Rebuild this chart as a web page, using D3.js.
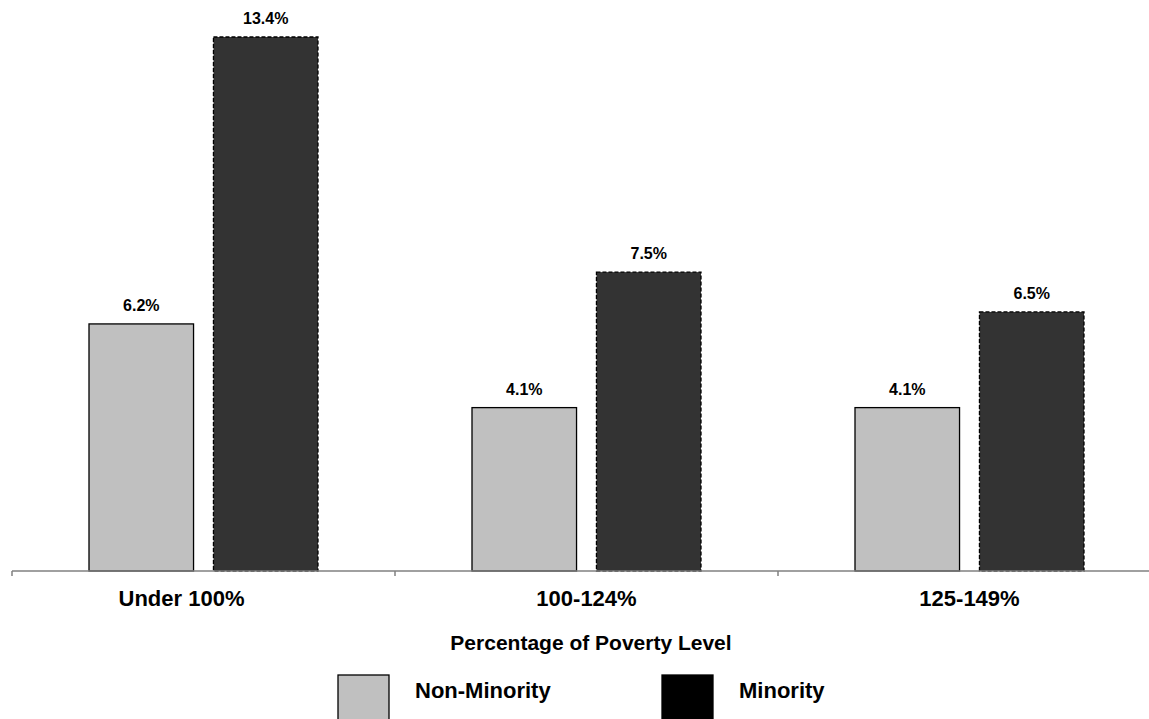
<!DOCTYPE html>
<html>
<head>
<meta charset="utf-8">
<script src="https://cdn.jsdelivr.net/npm/d3@7"></script>
<style>
    body { margin: 0; background: #fff; }
    text { font-family: "Liberation Sans", Arial, sans-serif; font-weight: bold; fill: #000; }
</style>
</head>
<body>
<div id="chart"></div>
<script>
const categories = ['Under 100%', '100-124%', '125-149%'];
const seriesNames = ['Non-Minority', 'Minority'];
const nonMinority = [6.2, 4.1, 4.1];
const minority = [13.4, 7.5, 6.5];
const axisTitle = 'Percentage of Poverty Level';

const width = 1149;
const height = 719;
const axisY = 571;

const fills = { 'Non-Minority': '#c0c0c0', 'Minority': '#333333' };
const legendFills = { 'Non-Minority': '#c0c0c0', 'Minority': '#000000' };

const svg = d3.select('#chart')
    .append('svg')
    .attr('width', width)
    .attr('height', height);

const x0 = d3.scaleBand().domain(categories).range([12, 1161]);
const x1 = d3.scaleBand().domain(seriesNames).range([77, 306]).paddingInner(0.16);
const y = d3.scaleLinear().domain([0, 13.4]).range([axisY, 37]);

const rows = categories.map((c, i) => ({
    category: c,
    values: [
        { series: 'Non-Minority', value: nonMinority[i] },
        { series: 'Minority', value: minority[i] }
    ]
}));

const groups = svg.selectAll('.group')
    .data(rows)
    .enter()
    .append('g')
    .attr('class', 'group')
    .attr('transform', d => `translate(${x0(d.category)},0)`);

groups.selectAll('rect')
    .data(d => d.values)
    .enter()
    .append('rect')
    .attr('x', d => x1(d.series))
    .attr('y', d => y(d.value))
    .attr('width', x1.bandwidth())
    .attr('height', d => axisY - y(d.value))
    .attr('fill', d => fills[d.series])
    .attr('stroke', '#000')
    .attr('stroke-width', 1.3)
    .attr('stroke-dasharray', d => d.series === 'Minority' ? '4,2' : null);

groups.selectAll('.val')
    .data(d => d.values)
    .enter()
    .append('text')
    .attr('class', 'val')
    .attr('x', d => x1(d.series) + x1.bandwidth() / 2)
    .attr('y', d => y(d.value) - 13)
    .attr('text-anchor', 'middle')
    .style('font-size', '16px')
    .text(d => d.value.toFixed(1) + '%');

// axis
const axis = svg.append('g').attr('transform', `translate(0,${axisY})`);
axis.append('line')
    .attr('x1', 12).attr('x2', width)
    .attr('stroke', '#808080').attr('stroke-width', 1.5);
axis.selectAll('.tick')
    .data(categories)
    .enter()
    .append('line')
    .attr('x1', d => x0(d)).attr('x2', d => x0(d))
    .attr('y1', 0).attr('y2', 5)
    .attr('stroke', '#808080').attr('stroke-width', 1.5);

svg.selectAll('.cat')
    .data(categories)
    .enter()
    .append('text')
    .attr('class', 'cat')
    .attr('x', (d, i) => x0(d) + x0.bandwidth() / 2 - (i === 0 ? 22 : 0))
    .attr('y', 606)
    .attr('text-anchor', 'middle')
    .style('font-size', '22px')
    .text(d => d);

svg.append('text')
    .attr('x', 591)
    .attr('y', 650)
    .attr('text-anchor', 'middle')
    .style('font-size', '21px')
    .text(axisTitle);

// legend
const legendX = d3.scalePoint().domain(seriesNames).range([338, 662]);
const legend = svg.selectAll('.legend')
    .data(seriesNames)
    .enter()
    .append('g')
    .attr('class', 'legend')
    .attr('transform', d => `translate(${legendX(d)},675)`);

legend.append('rect')
    .attr('width', 51)
    .attr('height', 50)
    .attr('fill', d => legendFills[d])
    .attr('stroke', '#000')
    .attr('stroke-width', 1.3);

legend.append('text')
    .attr('x', 77)
    .attr('y', 23)
    .style('font-size', '22px')
    .text(d => d);
</script>
</body>
</html>
